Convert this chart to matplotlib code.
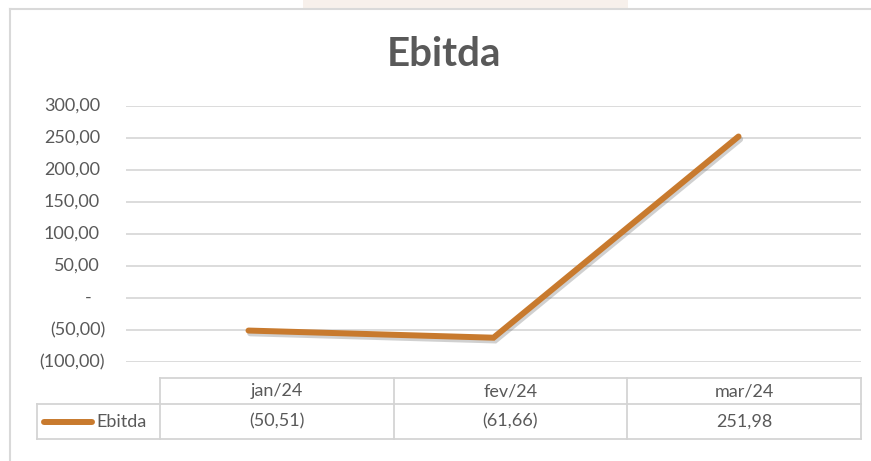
import matplotlib.pyplot as plt
import matplotlib.patheffects as pe
from matplotlib.patches import Rectangle

plt.rcParams['font.family'] = ['Lato', 'DejaVu Sans']

# ---- data ----
months = ["jan/24", "fev/24", "mar/24"]
ebitda = [-50.51, -61.66, 251.98]
series_name = "Ebitda"
y_ticks = [-100, -50, 0, 50, 100, 150, 200, 250, 300]

W, H = 871, 461
LINE_COLOR = "#C87A2E"
GRID = "#D9D9D9"
TXT = "#595959"
FS = 13


def fmt(v):
    # excel accounting style: 1.234,56 / (1.234,56) / -
    if v == 0:
        return "-"
    s = f"{abs(v):,.2f}".replace(",", "X").replace(".", ",").replace("X", ".")
    return f"({s})" if v < 0 else s


fig = plt.figure(figsize=(W / 100, H / 100), dpi=100)
fig.patch.set_facecolor("white")

# background overlay for drawing the chart frame/table in pixel coords
bg = fig.add_axes([0, 0, 1, 1])
bg.set_xlim(0, W)
bg.set_ylim(H, 0)
bg.axis("off")
bg.add_patch(Rectangle((303, 0), 325, 9.5, color="#F7F0EB", lw=0))
bg.plot([10, W], [9.5, 9.5], color=GRID, lw=1.5)
bg.plot([10, 10], [9.5, H], color=GRID, lw=1.5)

# ---- plot area ----
px_left, px_right, px_top, px_bot = 126, 861, 105.7, 362.3
ax = fig.add_axes([px_left / W, 1 - px_bot / H,
                   (px_right - px_left) / W, (px_bot - px_top) / H])
ax.set_facecolor("none")
xs = [i + 0.5 for i in range(len(months))]
ax.plot(xs, ebitda, color=LINE_COLOR, lw=4.3, solid_capstyle="round",
        solid_joinstyle="miter", zorder=3,
        path_effects=[pe.SimpleLineShadow(offset=(1.2, -2), shadow_color="#666666", alpha=0.3),
                      pe.Normal()])
ax.set_xlim(0, len(months))
ax.set_ylim(min(y_ticks), max(y_ticks))
for t in y_ticks:
    ax.axhline(t, color=GRID, lw=1.3, zorder=1)
for s in ax.spines.values():
    s.set_visible(False)
ax.set_xticks([])
ax.set_yticks([])

# y labels, accounting alignment
for t in y_ticks:
    y = px_top + (max(y_ticks) - t) / (max(y_ticks) - min(y_ticks)) * (px_bot - px_top)
    if t < 0:
        bg.text(105, y, fmt(t), ha="right", va="center", fontsize=FS, color=TXT)
    elif t == 0:
        bg.text(88, y, fmt(t), ha="center", va="center", fontsize=FS, color=TXT)
    else:
        bg.text(100, y, fmt(t), ha="right", va="center", fontsize=FS, color=TXT)

bg.text(444, 54, series_name, ha="center", va="center",
        fontsize=29, fontweight="bold", color=TXT)

# ---- data table ----
cols = [160, 393.5, 627, 861]
r0, r1, r2 = 378, 404, 439
TB = "#D4D4D4"
bg.plot([cols[0], cols[-1]], [r0, r0], color=TB, lw=1.3)
bg.plot([37, cols[-1]], [r1, r1], color=TB, lw=1.3)
bg.plot([37, cols[-1]], [r2, r2], color=TB, lw=1.3)
for c in cols:
    bg.plot([c, c], [r0, r2], color=TB, lw=1.3)
bg.plot([37, 37], [r1, r2], color=TB, lw=1.3)
for i, m in enumerate(months):
    cx = (cols[i] + cols[i + 1]) / 2
    bg.text(cx, (r0 + r1) / 2, m, ha="center", va="center", fontsize=FS, color=TXT)
    bg.text(cx, (r1 + r2) / 2, fmt(ebitda[i]), ha="center", va="center", fontsize=FS, color=TXT)
bg.plot([44, 92], [421.5, 421.5], color=LINE_COLOR, lw=4.3, solid_capstyle="round")
bg.text(96, 421.5, series_name, ha="left", va="center", fontsize=FS, color=TXT)

fig.savefig("out.png", dpi=100)
